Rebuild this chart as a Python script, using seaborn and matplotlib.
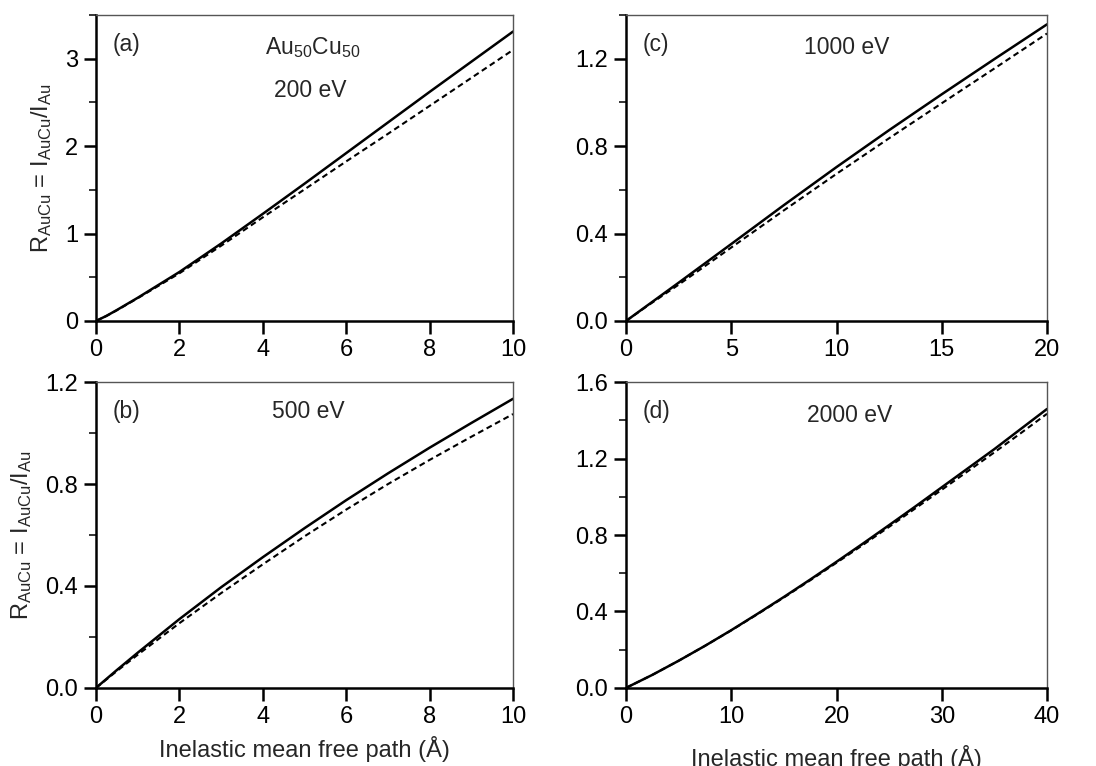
import pandas as pd
import matplotlib.pyplot as plt
import seaborn as sns

# panel (a) 200 eV
x_a = [0, 0.25, 0.5, 1, 2, 3, 4, 5, 6, 7, 8, 9, 10]
solid_a = [0, 0.058, 0.125, 0.265, 0.56, 0.885, 1.225, 1.57, 1.92, 2.27, 2.62, 2.965, 3.31]
dash_a = [0, 0.057, 0.122, 0.26, 0.545, 0.86, 1.185, 1.505, 1.825, 2.14, 2.46, 2.78, 3.10]

# panel (b) 500 eV
x_b = [0, 0.5, 1, 2, 3, 4, 5, 6, 7, 8, 9, 10]
solid_b = [0, 0.07, 0.138, 0.27, 0.395, 0.513, 0.627, 0.737, 0.842, 0.943, 1.04, 1.135]
dash_b = [0, 0.066, 0.13, 0.254, 0.372, 0.485, 0.595, 0.70, 0.80, 0.895, 0.986, 1.075]

# panel (c) 1000 eV
x_c = [0, 1, 2.5, 5, 7.5, 10, 12.5, 15, 17.5, 20]
solid_c = [0, 0.07, 0.175, 0.352, 0.53, 0.704, 0.873, 1.037, 1.198, 1.357]
dash_c = [0, 0.068, 0.166, 0.336, 0.506, 0.673, 0.836, 0.996, 1.155, 1.315]

# panel (d) 2000 eV
x_d = [0, 2.5, 5, 7.5, 10, 12.5, 15, 17.5, 20, 22.5, 25, 27.5, 30, 32.5, 35, 37.5, 40]
solid_d = [0, 0.068, 0.142, 0.22, 0.302, 0.388, 0.476, 0.567, 0.66, 0.755, 0.852, 0.95,
           1.05, 1.15, 1.25, 1.355, 1.46]
dash_d = [0, 0.068, 0.142, 0.22, 0.301, 0.386, 0.473, 0.563, 0.655, 0.748, 0.843, 0.94,
          1.037, 1.135, 1.233, 1.333, 1.435]

sns.set_style("ticks")
plt.rcParams["font.family"] = ["Liberation Sans", "DejaVu Sans"]
plt.rcParams["mathtext.fontset"] = "custom"
plt.rcParams["mathtext.rm"] = "Liberation Sans"
plt.rcParams["mathtext.it"] = "Liberation Sans:italic"

ylab = r"R$_{\mathrm{AuCu}}$ = I$_{\mathrm{AuCu}}$/I$_{\mathrm{Au}}$"
xlab = "Inelastic mean free path (Å)"

fig = plt.figure(figsize=(10.96, 7.66), dpi=100)

panels = [
    # x, solid, dashed, rect, xmax, xstep, ymax, ystep, tag, label, label pos
    (x_a, solid_a, dash_a, [0.0876, 0.581, 0.3805, 0.3995], 10, 2, 3.5, 1, "(a)", "200 eV", (0.513, 0.732)),
    (x_c, solid_c, dash_c, [0.5712, 0.581, 0.3841, 0.3995], 20, 5, 1.4, 0.4, "(c)", "1000 eV", (0.523, 0.873)),
    (x_b, solid_b, dash_b, [0.0876, 0.102, 0.3805, 0.399], 10, 2, 1.2, 0.4, "(b)", "500 eV", (0.51, 0.882)),
    (x_d, solid_d, dash_d, [0.5712, 0.102, 0.3841, 0.399], 40, 10, 1.6, 0.4, "(d)", "2000 eV", (0.532, 0.87)),
]

for i, (x, ys, yd, rect, xmax, xstep, ymax, ystep, tag, lab, lpos) in enumerate(panels):
    ax = fig.add_axes(rect)
    df = pd.DataFrame({"x": x, "solid": ys, "dashed": yd})
    sns.lineplot(data=df, x="x", y="solid", ax=ax, color="black", lw=1.8)
    sns.lineplot(data=df, x="x", y="dashed", ax=ax, color="black", lw=1.5,
                 linestyle=(0, (2.8, 1.8)))
    ax.set_xlim(0, xmax)
    ax.set_ylim(0, ymax)
    ax.set_xticks([xstep * k for k in range(int(round(xmax / xstep)) + 1)])
    nmaj = int(ymax / ystep + 1e-6)
    ax.set_yticks([ystep * k for k in range(nmaj + 1)])
    ax.set_yticks([ystep / 2 * k for k in range(int(round(ymax / (ystep / 2))) + 1)], minor=True)
    if ystep < 1:
        ax.set_yticklabels([f"{ystep * k:.1f}" for k in range(nmaj + 1)])
    ax.tick_params(axis="both", which="major", direction="out", length=9, width=1.8,
                   labelsize=17, colors="black", pad=4)
    ax.tick_params(axis="y", which="minor", direction="out", length=5, width=1.3)
    for s in ["left", "bottom"]:
        ax.spines[s].set_linewidth(1.8)
        ax.spines[s].set_color("black")
    for s in ["top", "right"]:
        ax.spines[s].set_linewidth(1.0)
        ax.spines[s].set_color("#555555")
    ax.set_xlabel("")
    ax.set_ylabel("")
    ax.text(0.04, 0.882, tag, transform=ax.transAxes, fontsize=16.5, va="baseline")
    if i == 0:
        ax.text(0.52, 0.873, r"Au$_{50}$Cu$_{50}$", transform=ax.transAxes, fontsize=16.5,
                va="baseline", ha="center")
    ax.text(lpos[0], lpos[1], lab, transform=ax.transAxes, fontsize=16.5,
            va="baseline", ha="center")
    if i in (0, 2):
        ax.set_ylabel(ylab, fontsize=17, labelpad=8)
    if i == 2:
        ax.set_xlabel(xlab, fontsize=17, labelpad=6)
    if i == 3:
        ax.set_xlabel(xlab, fontsize=17, labelpad=12)

fig.savefig("out.png", dpi=100)
